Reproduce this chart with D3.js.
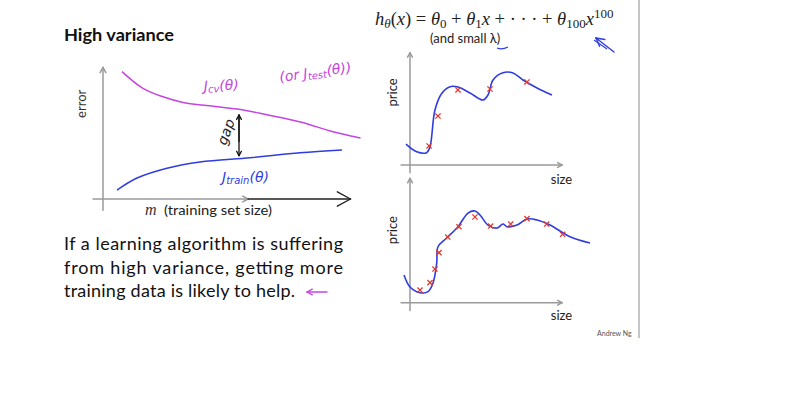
<!DOCTYPE html>
<html>
<head>
<meta charset="utf-8">
<script src="https://cdn.jsdelivr.net/npm/d3@7"></script>
<style>
  body { margin: 0; background: #fff; }
  svg { font-family: Lato, "Open Sans", sans-serif; }
</style>
</head>
<body>
<svg id="slide" width="804" height="398"></svg>
<script>
// learning curves, left panel: [m, error]
const jcvCurve = [[7.6, 9.1], [16, 7.9], [24, 7.3], [32, 6.9], [45, 6.6], [55, 6.4], [66, 6.0], [79, 5.5], [92, 4.8], [103, 4.35]];
const jtrainCurve = [[5.6, 0.64], [13.6, 1.5], [25.6, 2.2], [38.8, 2.65], [58.8, 2.95], [78.8, 3.3], [95.6, 3.5]];

// high order polynomial fits, right panels: [size, price]
const topFit = [[-2.5, 1.9], [4.2, 1.2], [10.4, 1.12], [12.5, 1.66], [15.6, 5.0], [19.8, 6.5], [25, 7.12], [30, 7.09],
  [37.5, 6.55], [45.6, 5.91], [48.75, 6.36], [51.9, 7.73], [58.1, 8.39], [64.4, 8.36], [70.6, 7.73], [79.4, 7.0], [88.75, 6.36]];
const topPoints = [[11.9, 1.73], [17.5, 4.45], [30, 6.82], [50, 6.91], [73.1, 7.55]];
const bottomFit = [[-3.75, 2.52], [0, 1.43], [6.25, 0.91], [11.25, 1.0], [14.4, 1.79], [16.7, 3.61], [17.5, 5.09], [22.9, 5.88],
  [30, 6.91], [36.25, 8.15], [40.6, 8.34], [43.75, 7.97], [48.75, 7.06], [54.4, 6.79], [58.1, 7.15], [60.6, 6.91],
  [66.9, 7.06], [73.1, 7.61], [79.4, 7.52], [87.5, 7.06], [100, 6.0], [112.5, 5.43]];
const bottomPoints = [[6.25, 1.15], [12.5, 1.82], [15.6, 3.06], [18.1, 4.55], [23.6, 5.97], [30.6, 6.91], [40.6, 7.79],
  [50.4, 6.97], [62.9, 7.15], [73.1, 7.64], [85.4, 7.15], [95.4, 6.22]];

const paragraph = ["If a learning algorithm is suffering", "from high variance, getting more", "training data is likely to help."];

const purple = "#c545e0";
const blue = "#2f3de0";
const red = "#e23a2e";
const axisGray = "#9a9a9a";

const svg = d3.select("#slide");

// scales
const leftX = d3.scaleLinear().domain([0, 100]).range([103, 353]);
const leftY = d3.scaleLinear().domain([0, 10]).range([199, 59]);
const sizeX = d3.scaleLinear().domain([0, 100]).range([410, 570]);
const topY = d3.scaleLinear().domain([0, 10]).range([165, 55]);
const botY = d3.scaleLinear().domain([0, 10]).range([302.7, 192.7]);

// slide border on the right
svg.append("line").attr("x1", 639).attr("x2", 639).attr("y1", 0).attr("y2", 338)
  .attr("stroke", "#8a8a8a").attr("stroke-width", 1);

// helper: line with a chevron head at (x2,y2)
function arrow(g, x1, y1, x2, y2, color, width, head) {
  g.append("line").attr("x1", x1).attr("y1", y1).attr("x2", x2).attr("y2", y2)
    .attr("stroke", color).attr("stroke-width", width).attr("stroke-linecap", "round");
  const a = Math.atan2(y2 - y1, x2 - x1);
  [0.5, -0.5].forEach(da => {
    g.append("line").attr("x1", x2).attr("y1", y2)
      .attr("x2", x2 - head * Math.cos(a + da)).attr("y2", y2 - head * Math.sin(a + da))
      .attr("stroke", color).attr("stroke-width", width).attr("stroke-linecap", "round");
  });
}

// ---------- left panel ----------
svg.append("text").attr("x", 64).attr("y", 41).attr("font-weight", 700).attr("font-size", 17)
  .attr("textLength", 110).attr("lengthAdjust", "spacingAndGlyphs").attr("fill", "#111").text("High variance");

const left = svg.append("g");
arrow(left, leftX(0), leftY(-0.8), leftX(0), leftY(9.4), axisGray, 1.5, 6);
arrow(left, leftX(-4), leftY(0), leftX(58), leftY(0), axisGray, 1.5, 6);
arrow(left, leftX(58), leftY(0), leftX(99), leftY(0), "#222", 1.4, 15);

left.append("text").attr("transform", `translate(${86},${leftY(6.8)}) rotate(-90)`)
  .attr("text-anchor", "middle").attr("font-size", 13).attr("fill", "#333").text("error");
left.append("text").attr("x", 145).attr("y", 215).style("font-family", "'Liberation Serif', serif")
  .attr("font-style", "italic").attr("font-size", 16).attr("fill", "#333").text("m");
left.append("text").attr("x", 164).attr("y", 215).attr("font-size", 12.5).attr("fill", "#222")
  .attr("textLength", 108).attr("lengthAdjust", "spacingAndGlyphs").text("(training set size)");

const curve = d3.line().x(d => leftX(d[0])).y(d => leftY(d[1])).curve(d3.curveCatmullRom.alpha(0.5));
left.append("path").attr("d", curve(jcvCurve)).attr("fill", "none").attr("stroke", purple).attr("stroke-width", 1.5);
left.append("path").attr("d", curve(jtrainCurve)).attr("fill", "none").attr("stroke", blue).attr("stroke-width", 1.5);

// handwritten-ish labels
const hand = (g, x, y, color, rot, parts, size) => {
  const t = g.append("text").attr("transform", `translate(${x},${y}) rotate(${rot})`)
    .attr("fill", color).attr("font-size", size).attr("font-style", "italic")
    .style("font-family", "'DejaVu Sans', sans-serif");
  parts.forEach(p => t.append("tspan").attr("dy", p.dy || 0).attr("font-size", p.s || size).text(p.t));
  return t;
};
hand(left, 204, 91, purple, -3, [{ t: "J" }, { t: "cv", dy: 2, s: 10 }, { t: "(θ)", dy: -2 }], 14);
hand(left, 280, 82, purple, -8, [{ t: "(or J" }, { t: "test", dy: 2, s: 10 }, { t: "(θ))", dy: -2 }], 14);
hand(left, 222, 182, blue, 0, [{ t: "J" }, { t: "train", dy: 2, s: 10 }, { t: "(θ)", dy: -2 }], 14);
hand(left, 226, 146, "#222", -70, [{ t: "gap" }], 14);

// gap double arrow
arrow(left, leftX(54.4), leftY(4.1), leftX(54.4), leftY(6.0), "#111", 1.3, 5);
arrow(left, leftX(54.4), leftY(5.9), leftX(54.4), leftY(3.1), "#111", 1.3, 5);

// paragraph
svg.append("g").selectAll("text").data(paragraph).join("text")
  .attr("x", 64).attr("y", (d, i) => [250, 274, 297][i])
  .attr("font-size", 18).attr("fill", "#111")
  .attr("textLength", (d, i) => [279, 279, 231][i]).attr("lengthAdjust", "spacing")
  .text(d => d);
arrow(svg, 327, 292, 307, 292, purple, 1.3, 6);

// ---------- right panels ----------
const formula = svg.append("text").attr("x", 375).attr("y", 25).style("font-family", "'Liberation Serif', serif")
  .attr("font-size", 18.5).attr("fill", "#222");
const f = (t, opt = {}) => formula.append("tspan").attr("font-style", opt.it ? "italic" : "normal")
  .attr("font-size", opt.s || null).attr("dy", opt.dy || 0).text(t);
f("h", { it: 1 }); f("θ", { it: 1, s: 13, dy: 3 }); f("(", { dy: -3 }); f("x", { it: 1 }); f(") = ");
f("θ", { it: 1 }); f("0", { s: 13, dy: 3 }); f(" + ", { dy: -3 });
f("θ", { it: 1 }); f("1", { s: 13, dy: 3 }); f("x", { it: 1, dy: -3 }); f(" + · · · + ");
f("θ", { it: 1 }); f("100", { s: 13, dy: 3 }); f("x", { it: 1, dy: -3 }); f("100", { s: 13, dy: -7 });

svg.append("text").attr("x", 430).attr("y", 43).attr("font-size", 13).attr("fill", "#222").text("(and small λ)");
svg.append("path").attr("d", "M497,48 Q502,50 508,47").attr("fill", "none").attr("stroke", blue).attr("stroke-width", 1.3);
arrow(svg, 614, 52, 596, 38, blue, 1.4, 9);
svg.append("line").attr("x1", 607).attr("y1", 49).attr("x2", 594).attr("y2", 40)
  .attr("stroke", blue).attr("stroke-width", 1.1);

const fitLine = y => d3.line().x(d => sizeX(d[0])).y(d => y(d[1])).curve(d3.curveCatmullRom.alpha(0.5));

function panel(y, fit, pts, yTop, yBottom) {
  const g = svg.append("g");
  arrow(g, sizeX(0), y(-0.7), sizeX(0), y(yTop), axisGray, 1.5, 5);
  arrow(g, sizeX(-5.6), y(0), sizeX(95), y(0), axisGray, 1.5, 5);
  g.append("text").attr("transform", `translate(${397},${y(6.6)}) rotate(-90)`)
    .attr("text-anchor", "middle").attr("font-size", 13).attr("fill", "#222").text("price");
  g.append("path").attr("d", fitLine(y)(fit)).attr("fill", "none").attr("stroke", blue).attr("stroke-width", 1.6);
  const s = 2.6;
  g.selectAll("path.x").data(pts).join("path").attr("class", "x")
    .attr("d", d => {
      const cx = sizeX(d[0]), cy = y(d[1]);
      return `M${cx - s},${cy - s}L${cx + s},${cy + s}M${cx - s},${cy + s}L${cx + s},${cy - s}`;
    })
    .attr("stroke", red).attr("stroke-width", 1.3);
  g.append("text").attr("x", sizeX(88)).attr("y", y(yBottom)).attr("font-size", 13).attr("fill", "#222").text("size");
  return g;
}
panel(topY, topFit, topPoints, 10.2, -1.7);
panel(botY, bottomFit, bottomPoints, 11.3, -1.6);

svg.append("text").attr("x", 597).attr("y", 336).attr("font-size", 7).attr("fill", "#555").text("Andrew Ng");
</script>
</body>
</html>
